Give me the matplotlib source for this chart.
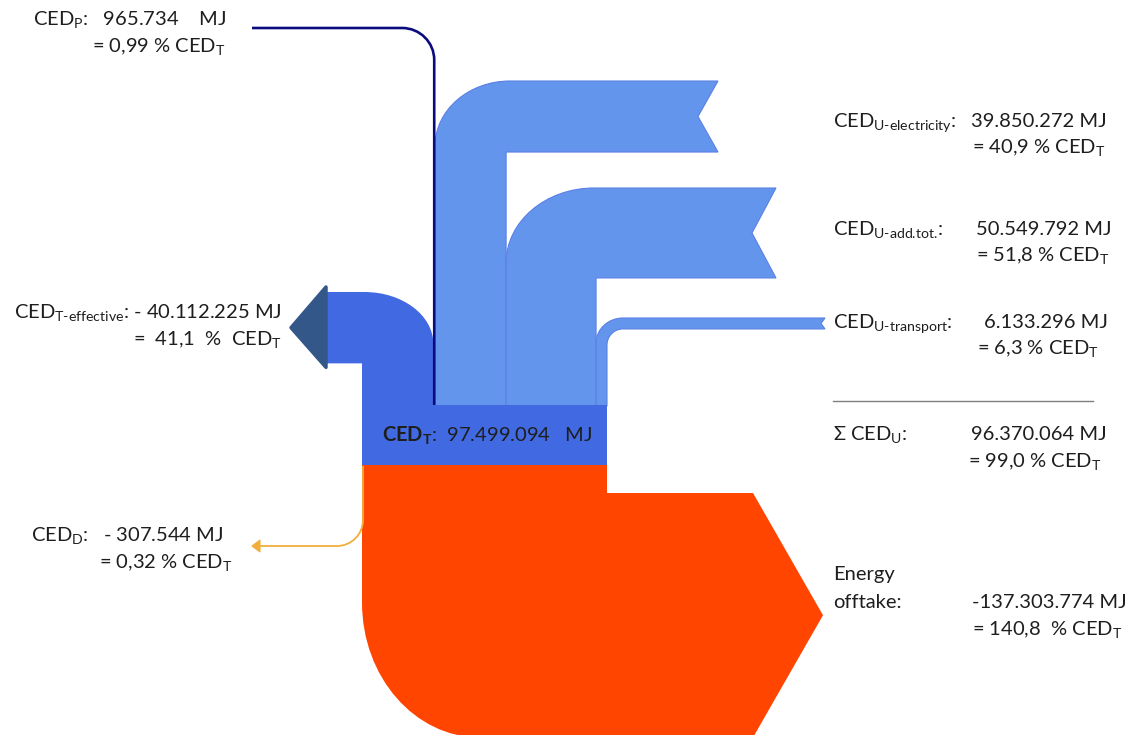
import matplotlib.pyplot as plt
from matplotlib.path import Path
from matplotlib.patches import PathPatch, Polygon

plt.rcParams['font.family'] = ['Lato', 'DejaVu Sans']
plt.rcParams['mathtext.fontset'] = 'custom'
plt.rcParams['mathtext.rm'] = 'Lato'
plt.rcParams['mathtext.it'] = 'Lato:italic'
plt.rcParams['mathtext.bf'] = 'Lato:bold'

# --- Daten (MJ und % von CED_T)
ced_t = 97499094
ced_p = 965734
pct_p = 0.99
ced_teff = -40112225
pct_teff = 41.1
u_names = ['electricity', 'add.tot.', 'transport']
u_mj = [39850272, 50549792, 6133296]
u_pct = [40.9, 51.8, 6.3]
ced_u_sum = 96370064
pct_u_sum = 99.0
ced_d = -307544
pct_d = 0.32
offtake = -137303774
pct_off = 140.8


def de(n):
    return f"{abs(n):,}".replace(",", ".")


def dp(p):
    return f"{p:g}".replace(".", ",")


K = 0.5523
M, L, C, Z = Path.MOVETO, Path.LINETO, Path.CURVE4, Path.CLOSEPOLY

fig = plt.figure(figsize=(11.25, 7.35), dpi=100)
ax = fig.add_axes([0, 0, 1, 1])
ax.set_xlim(0, 1125)
ax.set_ylim(735, 0)
ax.axis('off')

# Kasten CED_T
box_x0, box_y0, box_y1 = 362, 405, 465
box_w = 245
k = box_w / (pct_teff + pct_p + sum(u_pct))   # px pro %

c_dark = '#4169E1'
c_light = '#6495ED'
c_off = '#FF4500'


def elbow_right(x0, w, yb, yt, xe, notch, rx, ry, ri=0):
    v = [(x0, yb), (x0, yt + ry), (x0, yt + ry - K * ry), (x0 + rx - K * rx, yt), (x0 + rx, yt),
         (xe, yt), (xe - notch, yt + w / 2), (xe, yt + w)]
    c = [M, L, C, C, C, L, L, L]
    xi, yi = x0 + w, yt + w
    if ri > 0:
        v += [(xi + ri, yi), (xi + ri - K * ri, yi), (xi, yi + ri - K * ri), (xi, yi + ri)]
        c += [L, C, C, C]
    else:
        v += [(xi, yi)]
        c += [L]
    v += [(xi, yb), (x0, yb)]
    c += [L, Z]
    return Path(v, c)


# CED_T-effective (nach links)
w_teff = pct_teff * k
x1 = box_x0 + w_teff
yt, xe, rx, ry = 292, 325, 69, 52
v = [(box_x0, box_y0 + 1), (x1, box_y0 + 1), (x1, yt + ry), (x1, yt + ry - K * ry),
     (x1 - rx + K * rx, yt), (x1 - rx, yt), (xe, yt), (xe, yt + w_teff), (box_x0, yt + w_teff), (box_x0, box_y0)]
ax.add_patch(PathPatch(Path(v, [M, L, L, C, C, C, L, L, L, Z]), fc=c_dark, ec='none'))
ax.add_patch(Polygon([(xe + 1, yt - 5), (xe - 34, yt + w_teff / 2), (xe + 1, yt + w_teff + 4)],
                     closed=True, fc='#34578A', ec='#34578A', lw=2.5, joinstyle='round'))

# CED_U Ströme
w_p = pct_p * k
x = box_x0 + w_teff + w_p
u_geom = [  # yt, xe, notch, rx, ry, ri
    (81, 718, 20, 75, 65, 0),
    (188, 776, 24, 88, 75, 0),
    (318, 825, 4, 27, 25, 16),
]
for pct, (yt, xe, notch, rx, ry, ri) in zip(u_pct, u_geom):
    w = pct * k
    ax.add_patch(PathPatch(elbow_right(x, w, box_y0 + 1, yt, xe, notch, rx, ry, ri),
                           fc=c_light, ec='#5a80e4', lw=0.8))
    x += w

# CED_P Linie
xp = box_x0 + w_teff + w_p / 2
v = [(252, 28), (xp - 32, 28), (xp - 32 + K * 32, 28), (xp, 60 - K * 32), (xp, 60), (xp, box_y0)]
ax.add_patch(PathPatch(Path(v, [M, L, C, C, C, L]), fc='none', ec='#0b0b80', lw=w_p * 1.1))

# Kasten
ax.add_patch(Polygon([(box_x0, box_y0), (box_x0 + box_w, box_y0), (box_x0 + box_w, box_y1), (box_x0, box_y1)],
                     closed=True, fc=c_dark, ec='none'))

# Energy offtake
h = pct_off * k
ya = 493
ax0, tip = 753, 823
rx, ry = 118, 135
v = [(box_x0, box_y1), (box_x0 + box_w, box_y1), (box_x0 + box_w, ya), (ax0, ya), (tip, ya + h / 2),
     (ax0, ya + h), (box_x0 + rx, ya + h), (box_x0 + rx - K * rx, ya + h), (box_x0, ya + h - ry + K * ry),
     (box_x0, ya + h - ry), (box_x0, box_y1)]
ax.add_patch(PathPatch(Path(v, [M, L, L, L, L, L, L, C, C, C, Z]), fc=c_off, ec='none'))

# CED_D Linie
xd = box_x0 + 1
v = [(xd, box_y1 + 1), (xd, 520), (xd, 520 + K * 26), (xd - 26 + K * 26, 546), (xd - 26, 546), (259, 546)]
ax.add_patch(PathPatch(Path(v, [M, L, C, C, C, L]), fc='none', ec='#F2AE3C', lw=1.3))
ax.add_patch(Polygon([(260, 540), (252, 546), (260, 552)], closed=True, fc='#F2AE3C', ec='#F2AE3C', lw=0.8))

# --- Texte
fs = 14.5
tc = '#1e1e1e'


def t(xx, yy, s, **kw):
    ax.text(xx, yy, s, fontsize=fs, color=tc, va='baseline', **kw)


t(33, 25, r'CED$_\mathrm{P}$:   ' + de(ced_p) + '    MJ')
t(92, 52, '= ' + dp(pct_p) + r' % CED$_\mathrm{T}$')

t(282, 318, r'CED$_\text{T-effective}$: - ' + de(ced_teff) + ' MJ', ha='right')
t(282, 345, '=  ' + dp(pct_teff) + r'  %  CED$_\mathrm{T}$', ha='right')

t(31, 541, r'CED$_\mathrm{D}$:   - ' + de(ced_d) + ' MJ')
t(99, 568, '= ' + dp(pct_d) + r' % CED$_\mathrm{T}$')

t(382, 441, r'$\mathbf{CED}_\mathbf{T}$:  ' + de(ced_t) + '   MJ')

u_rows = [(127, 971, 972), (235, 976, 976), (328, 984, 977)]
for name, mj, pct, (yy, xv, xq) in zip(u_names, u_mj, u_pct, u_rows):
    t(833, yy, r'CED$_\text{U-' + name + '}$:')
    t(xv, yy, de(mj) + ' MJ')
    t(xq, yy + 26, '= ' + dp(pct) + r' % CED$_\mathrm{T}$')

ax.plot([833, 1093], [401, 401], color='#7f7f7f', lw=1)
t(833, 440, r'Σ CED$_\mathrm{U}$:')
t(971, 440, de(ced_u_sum) + ' MJ')
t(968, 467, '= ' + f"{pct_u_sum:.1f}".replace('.', ',') + r' % CED$_\mathrm{T}$')

t(833, 580, 'Energy')
t(833, 608, 'offtake:')
t(972, 608, '-' + de(offtake) + ' MJ')
t(972, 635, '= ' + dp(pct_off) + r'  % CED$_\mathrm{T}$')

fig.savefig('out.png', dpi=100)
